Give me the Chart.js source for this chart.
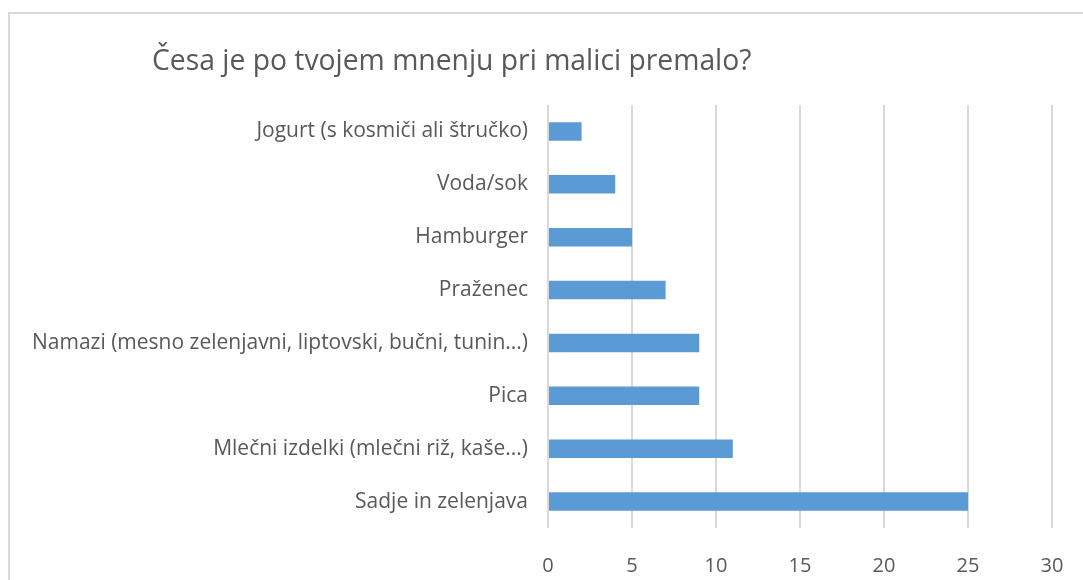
<!DOCTYPE html>
<html>
<head>
<meta charset="utf-8">
<script src="https://cdn.jsdelivr.net/npm/chart.js@4"></script>
<style>
  html, body { margin: 0; padding: 0; background: #ffffff; }
  #wrap { position: relative; width: 1083px; height: 580px; overflow: hidden; }
  #frame { position: absolute; left: 8px; top: 12px; width: 1090px; height: 600px;
           border: 2px solid #d9d9d9; box-sizing: border-box; }
  #title { position: absolute; left: 152px; top: 40px; font-family: "Open Sans", sans-serif;
           font-size: 28.3px; line-height: 38px; color: #595959; white-space: nowrap; }
  canvas { position: absolute; left: 0; top: 0; }
</style>
</head>
<body>
<div id="wrap">
  <div id="frame"></div>
  <canvas id="c" width="1083" height="580"></canvas>
  <div id="title"></div>
</div>
<script>
const titleText = "Česa je po tvojem mnenju pri malici premalo?";
const categories = [
  "Jogurt (s kosmiči ali štručko)",
  "Voda/sok",
  "Hamburger",
  "Praženec",
  "Namazi (mesno zelenjavni, liptovski, bučni, tunin...)",
  "Pica",
  "Mlečni izdelki (mlečni riž, kaše...)",
  "Sadje in zelenjava"
];
const values = [2, 4, 5, 7, 9, 9, 11, 25];
const xTicks = [0, 5, 10, 15, 20, 25, 30];

document.getElementById('title').textContent = titleText;

new Chart(document.getElementById('c'), {
  type: 'bar',
  data: {
    labels: categories,
    datasets: [{
      data: values,
      backgroundColor: '#5B9BD5',
      borderWidth: 0,
      categoryPercentage: 1,
      barPercentage: 0.35
    }]
  },
  options: {
    indexAxis: 'y',
    responsive: false,
    animation: false,
    devicePixelRatio: 1,
    layout: { padding: { top: 105, left: 10, right: 31, bottom: 0 } },
    plugins: { legend: { display: false }, tooltip: { enabled: false }, title: { display: false } },
    scales: {
      x: {
        min: 0, max: 30,
        afterBuildTicks: s => { s.ticks = xTicks.map(v => ({ value: v })); },
        afterFit: s => { s.height = 52; },
        grid: { color: '#d9d9d9', lineWidth: 2, drawTicks: true, tickLength: 20, tickColor: 'rgba(0,0,0,0)' },
        border: { display: false },
        ticks: { color: '#595959', font: { family: 'Open Sans', size: 20 }, padding: 6 }
      },
      y: {
        afterFit: s => { s.width = 538; },
        grid: { display: false },
        border: { display: false },
        ticks: { color: '#595959', font: { family: 'Open Sans', size: 21 }, padding: 12, autoSkip: false }
      }
    }
  }
});
</script>
</body>
</html>
